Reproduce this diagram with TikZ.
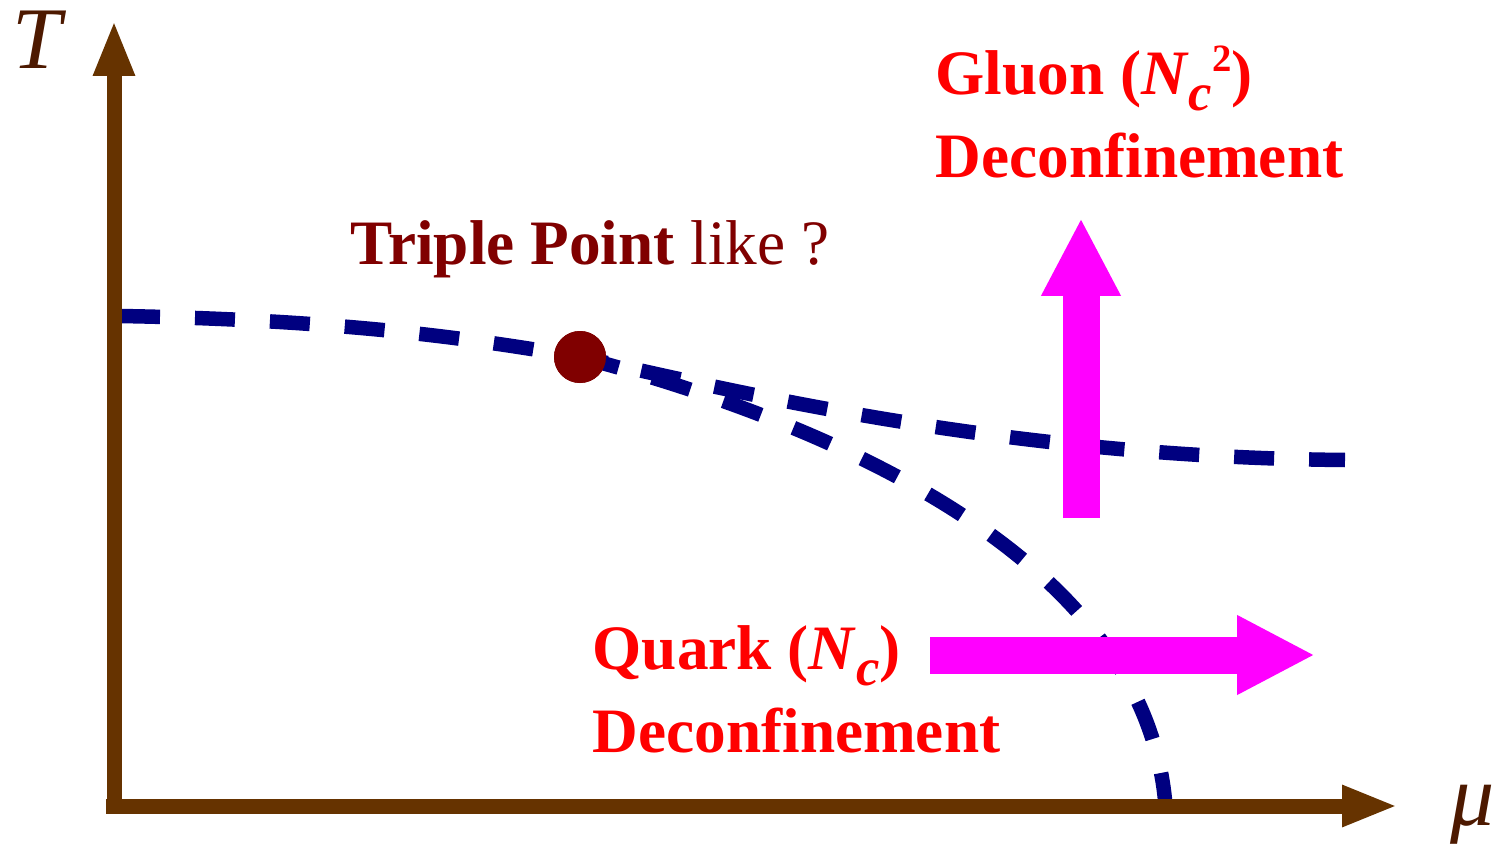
\documentclass[tikz,border=0pt]{standalone}
\usepackage{fontspec}
\setmainfont{Liberation Serif}
\usetikzlibrary{arrows.meta}

\definecolor{axisbrown}{RGB}{102,51,0}
\definecolor{labelbrown}{RGB}{77,25,0}
\definecolor{linenavy}{RGB}{0,0,128}
\definecolor{dotred}{RGB}{128,0,0}
\definecolor{arrowpink}{RGB}{255,0,255}

\newcommand{\Nsub}{\textit{N}\raisebox{-4.5pt}{\fontsize{15}{15}\selectfont\textit{c}}}

\begin{document}
\begin{tikzpicture}[
  axis/.style={line width=0.15cm,axisbrown,-{Triangle[length=0.56cm,width=0.38cm]}},
  border/.style={dash pattern=on 0.4cm off 0.35cm,line width=0.145cm,linenavy},
  bigarrow/.style={line width=0.37cm,arrowpink,-{Triangle[length=0.78cm,width=0.74cm]}},
  lbl/.style={font=\fontsize{18}{23.5}\selectfont\bfseries,red,align=left,inner sep=0pt,anchor=base west}
]
\useasboundingbox (0,0) rectangle (15.09,8.45);

% Axes
\coordinate (O) at (1.14,0.39);
\coordinate (Tbot) at (1.14,0.32);
\coordinate (Ttop) at (1.14,8.25);
\coordinate (Mbeg) at (1.06,0.39);
\coordinate (Mend) at (13.98,0.39);

% Phase boundaries
\node[circle,fill=dotred,minimum size=0.52cm,inner sep=0pt] (tp) at (5.8,4.88) {};
\coordinate (b0) at (1.2,5.29);
\coordinate (b1) at (13.45,3.85);
\coordinate (b2) at (11.65,0.45);
\draw[border] (b0) .. controls (3.5,5.25) and (4.8,5.05) .. (tp.center)
              .. controls (7.3,4.55) and (10,3.88) .. (b1);
\draw[border] (tp.center) .. controls (8,4.3) and (11.4,3.0) .. (b2);
\node[circle,fill=dotred,minimum size=0.52cm,inner sep=0pt] at (tp) {};

\draw[axis] (Tbot) -- (Ttop);
\draw[axis] (Mbeg) -- (Mend);
\node[font=\fontsize{25}{25}\selectfont\itshape,labelbrown,anchor=base west,inner sep=0pt] (Tlab) at (0.12,7.76) {T};
\node[font=\fontsize{25}{25}\selectfont\itshape,labelbrown,anchor=base west,inner sep=0pt] (mulab) at (14.50,0.20) {μ};

% Deconfinement arrows
\coordinate (gA) at (10.81,3.27);
\coordinate (gB) at (10.81,6.27);
\coordinate (qA) at (9.30,1.90);
\coordinate (qB) at (13.15,1.90);
\draw[bigarrow] (gA) -- (gB);
\draw[bigarrow] (qA) -- (qB);

% Labels
\node[lbl] (gluon) at (9.35,6.68) {Gluon (\Nsub\raisebox{6.5pt}{\fontsize{11}{11}\selectfont 2})\\Deconfinement};
\node[lbl] (quark) at (5.92,0.93) {Quark (\Nsub)\\Deconfinement};
\node[lbl,dotred] (triple) at (3.5,5.80) {Triple Point\mdseries{} like ?};
\end{tikzpicture}
\end{document}
